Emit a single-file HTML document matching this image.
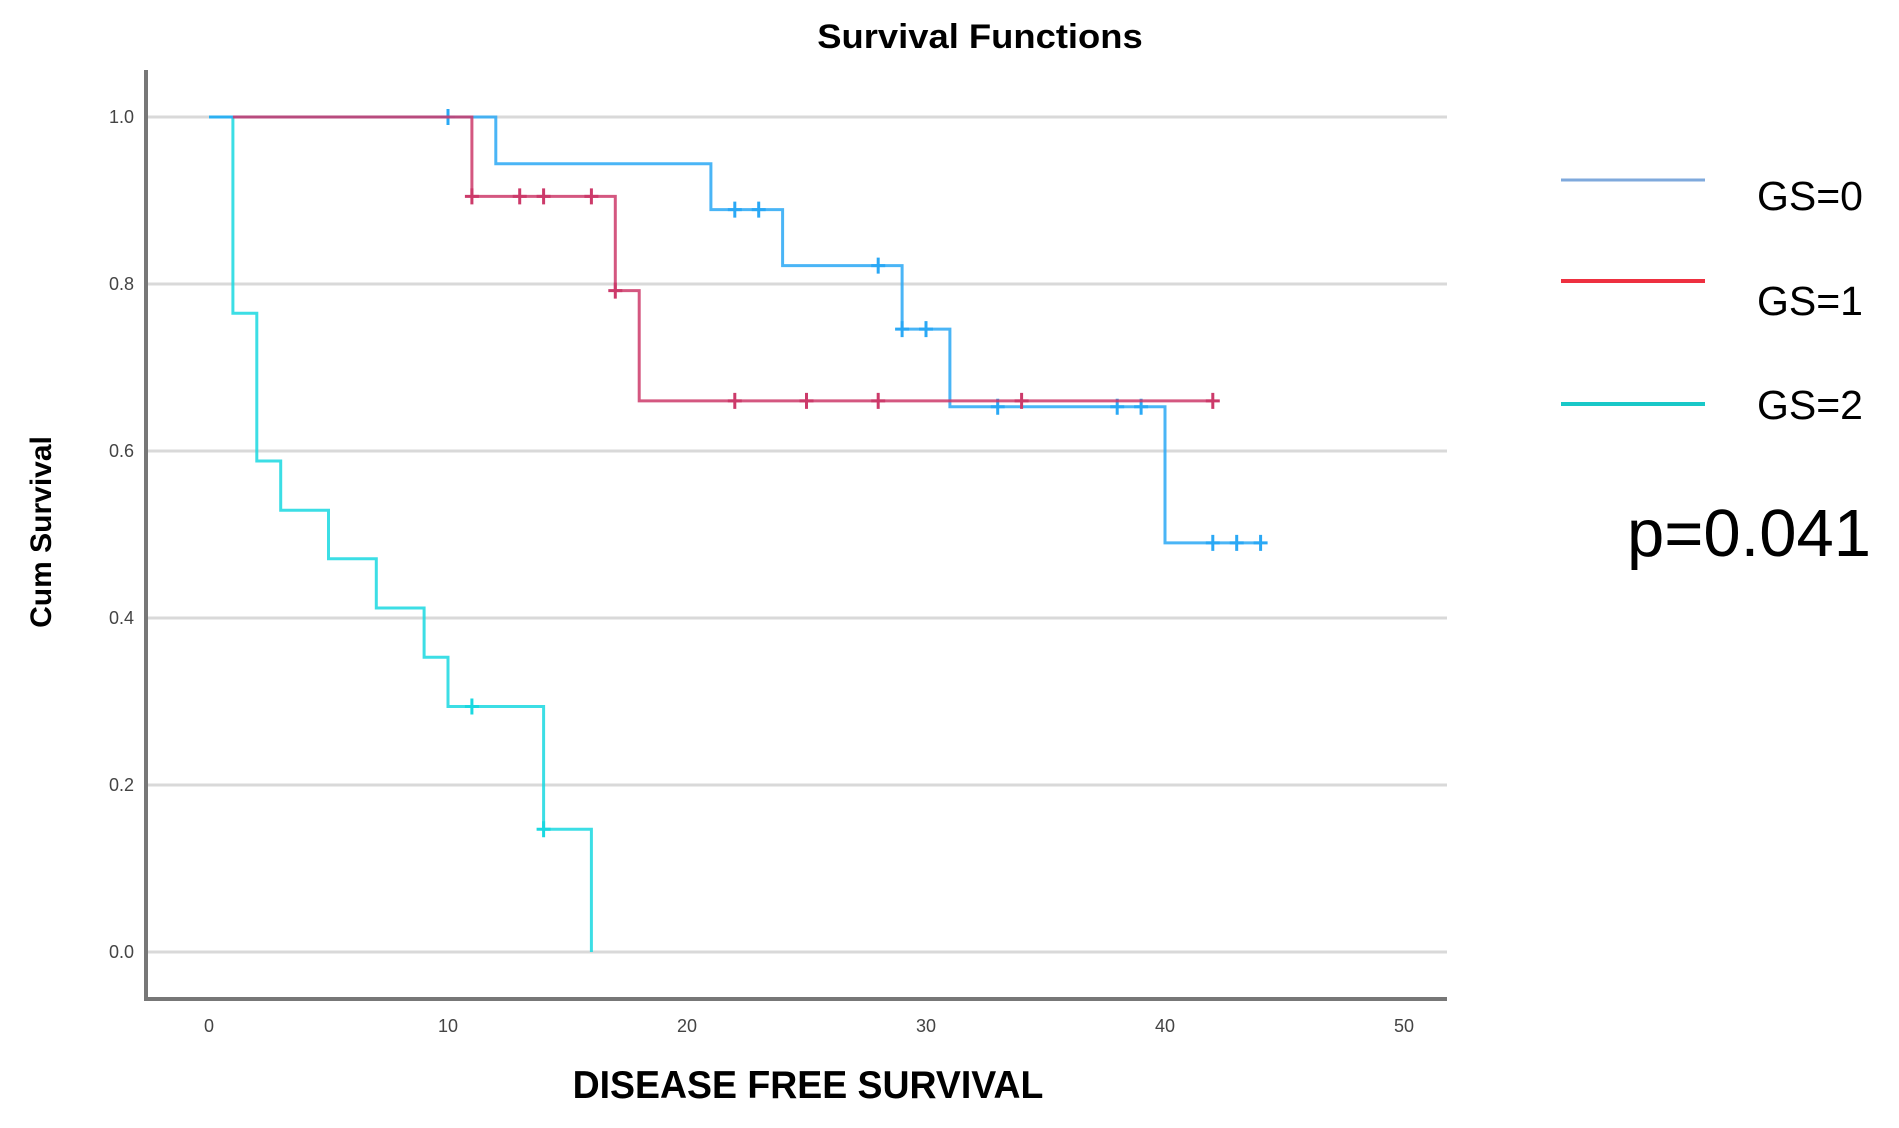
<!DOCTYPE html>
<html><head><meta charset="utf-8"><style>
html,body{margin:0;padding:0;background:#fff;}
svg{display:block;}
</style></head><body>
<svg id="chart" width="1899" height="1128" viewBox="0 0 1899 1128">
<g id="grid"></g>
<g id="axes"></g>
<g id="series"></g>
<text x="980" y="48" text-anchor="middle" font-family="Liberation Sans, sans-serif" font-weight="bold" font-size="34" transform="translate(980,0) scale(1.07,1) translate(-980,0)">Survival Functions</text>
<text x="808" y="1098" text-anchor="middle" font-family="Liberation Sans, sans-serif" font-weight="bold" font-size="39" transform="translate(808,0) scale(0.96,1) translate(-808,0)">DISEASE FREE SURVIVAL</text>
<text x="0" y="0" text-anchor="middle" font-family="Liberation Sans, sans-serif" font-weight="bold" font-size="30" transform="translate(51,532) rotate(-90)">Cum Survival</text>
<g>
<line x1="1561" y1="180" x2="1705" y2="180" stroke="#7fa9dc" stroke-width="3"/>
<text x="1757" y="210" font-family="Liberation Sans, sans-serif" font-size="41">GS=0</text>
<line x1="1561" y1="281" x2="1705" y2="281" stroke="#ee3040" stroke-width="4"/>
<text x="1757" y="315" font-family="Liberation Sans, sans-serif" font-size="41">GS=1</text>
<line x1="1561" y1="404" x2="1705" y2="404" stroke="#19c8c8" stroke-width="4"/>
<text x="1757" y="419" font-family="Liberation Sans, sans-serif" font-size="41">GS=2</text>
</g>
<text x="1627" y="556" font-family="Liberation Sans, sans-serif" font-size="67">p=0.041</text>
</svg>
<script>
const xTicks = [0,10,20,30,40,50];
const yTicks = [0.0,0.2,0.4,0.6,0.8,1.0];
const gs0Times = [0,12,21,24,29,31,40,44];
const gs0Surv  = [1.0,0.944,0.889,0.822,0.746,0.653,0.49,0.49];
const gs0Cens  = [10,22,23,28,29,30,33,38,39,42,43,44];
const gs1Times = [1,11,17,18,42];
const gs1Surv  = [1.0,0.905,0.792,0.66,0.66];
const gs1Cens  = [11,13,14,16,17,22,25,28,34,42];
const gs2Times = [0,1,2,3,5,7,9,10,14,16];
const gs2Surv  = [1.0,0.765,0.588,0.529,0.471,0.412,0.353,0.294,0.147,0.0];
const gs2Cens  = [11,14];

const NS='http://www.w3.org/2000/svg';
const X0=209, XU=23.9, Y0=952, Y1=117;
function sx(v){return X0+v*XU;}
function sy(v){return Y0-(Y0-Y1)*v;}
function mk(tag,attrs,parent){const e=document.createElementNS(NS,tag);for(const k in attrs)e.setAttribute(k,attrs[k]);parent.appendChild(e);return e;}
const grid=document.getElementById('grid'), axes=document.getElementById('axes'), ser=document.getElementById('series');
yTicks.forEach(t=>{
  const l=mk('line',{x1:146,x2:1447,y1:sy(t),y2:sy(t),stroke:'#d9d9d9','stroke-width':3},grid);
  
  
  const tx=mk('text',{x:134,y:sy(t)+6,'text-anchor':'end','font-family':'Liberation Sans, sans-serif','font-size':18,fill:'#444'},axes);
  tx.textContent=t.toFixed(1);
  
  
});
xTicks.forEach(t=>{
  const tx=mk('text',{x:sx(t),y:1032,'text-anchor':'middle','font-family':'Liberation Sans, sans-serif','font-size':18,fill:'#444'},axes);
  tx.textContent=String(t);
  
  
});
const ya=mk('line',{x1:146,y1:70,x2:146,y2:1000,stroke:'#777','stroke-width':4},axes);


const xa=mk('line',{x1:144,y1:999,x2:1447,y2:999,stroke:'#777','stroke-width':4},axes);



function survAt(times,surv,t){let s=surv[0];for(let i=0;i<times.length;i++){if(times[i]<=t)s=surv[i];}return s;}
function drawSeries(times,surv,cens,color,name){
  let d='M'+sx(times[0])+','+sy(surv[0]);
  for(let i=1;i<times.length;i++){
    d+=' H'+sx(times[i])+' V'+sy(surv[i]);
  }
  const p=mk('path',{d:d,fill:'none',stroke:color,'stroke-width':3,'stroke-opacity':0.85},ser);
  
  
  cens.forEach(c=>{
    const s=survAt(times,surv,c);
    const m=mk('path',{d:'M'+(sx(c)-7)+','+sy(s)+' H'+(sx(c)+7)+' M'+sx(c)+','+(sy(s)-8)+' V'+(sy(s)+8),stroke:color,'stroke-width':3},ser);
    
    
  });
}
drawSeries(gs2Times,gs2Surv,gs2Cens,'#1ad8e0','gs2');
drawSeries(gs0Times,gs0Surv,gs0Cens,'#2aa8f5','gs0');
drawSeries(gs1Times,gs1Surv,gs1Cens,'#cc3a6a','gs1');
</script>
</body></html>
